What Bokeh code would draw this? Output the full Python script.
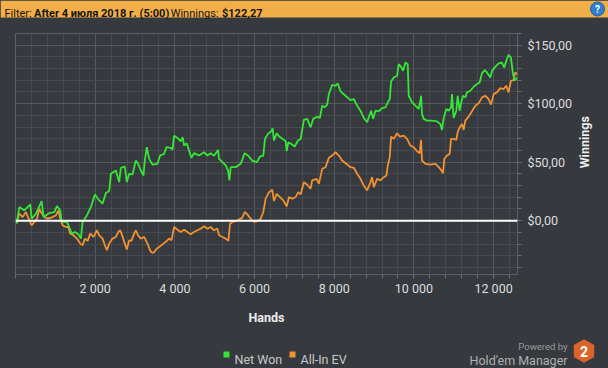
import math
from bokeh.plotting import figure
from bokeh.layouts import column, row
from bokeh.models import Range1d, FixedTicker, Label, Span, GlobalInlineStyleSheet
from bokeh.embed import file_html
from bokeh.resources import INLINE

# ---------------- data ----------------
NET_WON = [(30, -2.6), (96, 11.6), (221, 8.8), (372, 13.9), (405, 1.7), (514, 6.0), (656, 16.8), (706, 3.1),
           (848, 6.5), (973, 7.4), (1040, 12.5), (1124, 8.8), (1157, -1.1), (1291, -1.1), (1349, -5.4),
           (1408, -11.1), (1491, -9.7), (1575, -11.6), (1642, -15.3), (1683, -1.1), (1792, 4.5), (1892, 11.6),
           (1993, 22.4), (2101, 17.3), (2185, 14.5), (2268, 23.6), (2352, 25.3), (2394, 40.1), (2519, 42.9),
           (2602, 33.0), (2644, 45.2), (2744, 46.3), (2794, 33.0), (2853, 40.1), (2936, 39.5), (3020, 51.4),
           (3078, 48.6), (3145, 42.9), (3212, 38.6), (3245, 51.4), (3295, 62.8), (3354, 52.8), (3437, 48.0),
           (3563, 48.6), (3630, 55.7), (3730, 57.1), (3788, 62.8), (3897, 62.2), (3939, 60.5), (3981, 72.7),
           (4064, 70.7), (4148, 67.9), (4198, 71.3), (4231, 64.2), (4298, 66.2), (4357, 59.9), (4415, 53.7),
           (4482, 57.7), (4607, 55.7), (4733, 58.5), (4817, 55.7), (4900, 57.7), (4984, 55.4), (5084, 60.5),
           (5109, 52.8), (5193, 50.0), (5276, 47.2), (5335, 42.9), (5368, 34.4), (5402, 45.7), (5527, 45.7),
           (5652, 48.6), (5753, 57.7), (5836, 55.7), (5945, 51.4), (6053, 50.0), (6137, 54.8), (6220, 55.7),
           (6262, 69.9), (6337, 74.2), (6421, 76.4), (6454, 79.0), (6488, 68.5), (6555, 74.7), (6622, 71.9),
           (6705, 69.9), (6781, 67.9), (6806, 59.4), (6848, 67.0), (6923, 65.6), (7007, 63.4), (7090, 68.5),
           (7157, 69.9), (7239, 86.1), (7322, 87.0), (7406, 79.8), (7472, 87.0), (7573, 88.9), (7640, 87.8),
           (7698, 98.3), (7757, 96.9), (7823, 99.2), (7865, 108.2), (7949, 116.2), (8032, 115.3), (8091, 117.3),
           (8158, 110.5), (8283, 106.8), (8408, 103.1), (8492, 104.0), (8575, 98.3), (8659, 94.0), (8742, 87.8),
           (8826, 84.1), (8868, 88.4), (8926, 94.0), (8976, 87.0), (9035, 94.0), (9118, 93.5), (9202, 96.3),
           (9285, 96.9), (9344, 101.1), (9394, 104.0), (9427, 119.0), (9494, 122.4), (9578, 123.9), (9619, 133.8),
           (9678, 131.5), (9728, 128.1), (9787, 135.2), (9845, 133.8), (9870, 106.8), (9954, 101.1), (10037, 98.3),
           (10121, 95.5), (10162, 102.6), (10179, 106.8), (10204, 91.2), (10246, 87.0), (10330, 85.5),
           (10455, 85.5), (10580, 84.9), (10664, 82.7), (10705, 77.6), (10747, 87.8), (10814, 95.5), (10873, 94.0),
           (10931, 96.9), (10956, 108.2), (10998, 87.8), (11065, 94.0), (11098, 106.8), (11148, 94.0),
           (11182, 100.3), (11232, 106.8), (11290, 105.4), (11332, 109.7), (11416, 111.1), (11499, 114.5),
           (11583, 116.8), (11650, 118.2), (11708, 125.9), (11775, 128.7), (11833, 126.7), (11917, 122.4),
           (11959, 128.1), (12042, 131.5), (12126, 134.4), (12209, 135.2), (12268, 130.9), (12318, 136.6),
           (12376, 141.8), (12434, 139.5), (12485, 125.9), (12527, 119.6), (12590, 122.3)]

ALLIN_EV = [(30, -1.1), (96, 6.0), (180, 3.1), (263, 7.4), (347, 0.3), (405, -4.0), (472, -1.1), (539, 1.7),
            (598, 10.2), (639, 7.4), (723, 3.1), (806, 1.7), (932, 3.1), (1015, 4.5), (1074, 8.8), (1124, 1.7),
            (1183, -4.0), (1266, -5.4), (1324, -5.4), (1375, -11.1), (1458, -12.5), (1541, -15.3), (1625, -19.6),
            (1683, -21.0), (1742, -15.3), (1809, -17.3), (1876, -11.1), (1959, -13.9), (2043, -8.2), (2101, -12.5),
            (2185, -15.3), (2244, -21.0), (2294, -25.3), (2352, -19.6), (2436, -15.3), (2519, -13.9), (2578, -9.7),
            (2628, -8.2), (2686, -13.4), (2744, -19.6), (2794, -24.7), (2853, -16.8), (2911, -17.3), (2978, -11.1),
            (3020, -8.2), (3078, -12.5), (3145, -15.3), (3229, -13.9), (3312, -19.6), (3396, -26.7), (3462, -27.6),
            (3546, -23.9), (3630, -21.9), (3713, -19.6), (3797, -17.3), (3855, -15.3), (3914, -16.8), (3981, -5.4),
            (4064, -7.7), (4148, -9.7), (4231, -7.7), (4315, -9.7), (4398, -11.6), (4482, -9.7), (4566, -8.2),
            (4649, -6.8), (4733, -4.8), (4817, -6.8), (4900, -5.4), (4984, -8.2), (5067, -6.8), (5109, -12.5),
            (5193, -13.9), (5276, -15.3), (5343, -17.3), (5385, -2.6), (5443, -1.1), (5527, -0.3), (5610, 0.9),
            (5694, 2.6), (5753, 7.4), (5820, 5.4), (5903, 1.7), (5987, -1.1), (6070, -0.3), (6154, 1.7),
            (6220, 7.4), (6279, 18.8), (6362, 24.4), (6446, 26.4), (6488, 16.8), (6555, 23.0), (6638, 20.2),
            (6722, 17.3), (6806, 12.2), (6865, 20.2), (6948, 18.8), (7032, 20.2), (7098, 24.4), (7157, 22.4),
            (7239, 33.0), (7322, 30.7), (7406, 27.3), (7447, 34.4), (7556, 35.8), (7615, 31.5), (7698, 44.3),
            (7782, 45.7), (7865, 53.7), (7949, 55.7), (8032, 58.5), (8116, 55.7), (8199, 51.4), (8325, 48.0),
            (8408, 45.7), (8492, 45.2), (8575, 40.1), (8659, 35.8), (8742, 30.1), (8826, 25.9), (8893, 31.5),
            (8951, 37.2), (8993, 28.7), (9076, 35.8), (9160, 34.4), (9244, 37.2), (9310, 38.6), (9344, 47.2),
            (9394, 54.3), (9427, 71.9), (9494, 69.9), (9578, 74.7), (9645, 71.9), (9745, 72.7), (9828, 69.9),
            (9912, 64.2), (9995, 62.8), (10079, 59.4), (10146, 57.7), (10179, 69.0), (10204, 51.4), (10288, 48.6),
            (10413, 48.0), (10538, 48.6), (10622, 45.7), (10680, 43.5), (10730, 40.6), (10764, 52.8), (10831, 55.7),
            (10898, 57.1), (10931, 69.9), (10998, 69.9), (11065, 69.0), (11098, 75.6), (11148, 79.8), (11207, 82.7),
            (11249, 77.6), (11290, 85.5), (11374, 88.9), (11457, 93.5), (11541, 98.3), (11625, 100.3),
            (11708, 105.4), (11791, 106.8), (11875, 104.0), (11934, 99.2), (12001, 108.2), (12084, 109.7),
            (12168, 113.3), (12251, 112.5), (12318, 115.3), (12376, 109.7), (12434, 119.6), (12501, 120.2),
            (12543, 126.7), (12590, 125.3)]

X_TICKS = [2000, 4000, 6000, 8000, 10000, 12000]
X_TICK_LABELS = ["2 000", "4 000", "6 000", "8 000", "10 000", "12 000"]
Y_TICKS = [0, 50, 100, 150]
Y_TICK_LABELS = ["$0,00", "$50,00", "$100,00", "$150,00"]
SERIES_NAMES = ["Net Won", "All-In EV"]
X_TITLE = "Hands"
Y_TITLE = "Winnings"

# ---------------- style ----------------
BG = "#36393e"
HEADER = "#f2ae48"
GREEN = "#36e636"
ORANGE = "#f09132"
FONT = "Roboto"
W, H = 608, 368
BAND_H = 17          # orange band height
FL, FT, FR, FB = 15, 33, 517, 274  # frame edges in page px
MAIN_BOTTOM = 300    # page y where the main figure ends
MAIN_W = 577         # main figure width, rest is the side strip for the y title


def deco_fig(x0, x1, y0, y1, fill):
    """Plain figure whose data coordinates equal page pixels (y grows downward)."""
    f = figure(width=x1 - x0, height=y1 - y0, output_backend="svg", toolbar_location=None,
               x_range=Range1d(x0, x1), y_range=Range1d(y1, y0),
               x_axis_type=None, y_axis_type=None, min_border=0,
               background_fill_color=fill, border_fill_color=fill, outline_line_color=None)
    f.xgrid.visible = False
    f.ygrid.visible = False
    return f


def lab(f, text, x, y, size="12px", color="#dedede", style="normal", align="left", angle=0,
        baseline="alphabetic"):
    f.add_layout(Label(x=x, y=y, text=text, text_font=FONT, text_font_size=size, text_color=color,
                       text_font_style=style, text_align=align, text_baseline=baseline, angle=angle))


# ---------------- header (orange band + dark strip above the plot frame) ----------------
head = deco_fig(0, W, 0, FT, BG)
head.quad(left=[0], right=[W], top=[0], bottom=[BAND_H], fill_color=HEADER, line_color=None)
lab(head, "Filter:", 4, 12.5, size="11px", color="#151515")
lab(head, "After 4 июля 2018 г. (5:00)", 33.5, 12.5, size="11px", color="#151515", style="bold")
lab(head, "Winnings:", 218, 12.5, size="11px", color="#151515", align="right")
lab(head, "$122,27", 221.5, 12.5, size="11px", color="#151515", style="bold")
head.scatter([597], [8.5], marker="circle", size=14, fill_color="#2f7fcf", line_color="#1d5fa8")
lab(head, "?", 597, 8.5, size="10px", color="white", style="bold", align="center", baseline="middle")

# ---------------- main chart ----------------
p = figure(width=MAIN_W, height=MAIN_BOTTOM - FT, output_backend="svg", toolbar_location=None,
           x_range=Range1d(0, 12600), y_range=Range1d(-46, 160),
           y_axis_location="right",
           min_border_left=FL, min_border_right=MAIN_W - FR,
           min_border_top=0, min_border_bottom=MAIN_BOTTOM - FB,
           background_fill_color=BG, border_fill_color=BG,
           outline_line_color="#5d6064", outline_line_width=1)

p.xaxis.ticker = FixedTicker(ticks=X_TICKS, minor_ticks=list(range(0, 12601, 400)))
p.xaxis.major_label_overrides = dict(zip(X_TICKS, X_TICK_LABELS))
p.yaxis.ticker = FixedTicker(ticks=Y_TICKS, minor_ticks=list(range(-40, 161, 10)))
p.yaxis.major_label_overrides = dict(zip(Y_TICKS, Y_TICK_LABELS))
for ax in (p.xaxis, p.yaxis):
    ax.axis_line_color = None
    ax.major_tick_line_color = "#6b6e72"
    ax.minor_tick_line_color = "#6b6e72"
    ax.major_tick_in = 0
    ax.minor_tick_in = 0
    ax.major_tick_out = 4
    ax.minor_tick_out = 4
    ax.major_label_text_font = FONT
    ax.major_label_text_font_size = "12.5px"
    ax.major_label_text_color = "#dedede"
p.xaxis.major_label_standoff = 2
p.yaxis.major_label_standoff = 6

p.xgrid.ticker = p.xaxis.ticker
p.ygrid.ticker = p.yaxis.ticker
for g in (p.xgrid, p.ygrid):
    g.grid_line_color = "#56595d"
    g.minor_grid_line_color = "#46494e"

ev_x, ev_y = zip(*ALLIN_EV)
nw_x, nw_y = zip(*NET_WON)
p.line(list(ev_x), list(ev_y), line_color=ORANGE, line_width=1.8)
p.line(list(nw_x), list(nw_y), line_color=GREEN, line_width=1.8)
p.add_layout(Span(location=0, dimension="width", line_color="white", line_width=2))

# ---------------- side strip with the y title ----------------
side = deco_fig(MAIN_W, W, FT, MAIN_BOTTOM, BG)
lab(side, Y_TITLE, 584, (FT + FB) / 2, size="12.5px", style="bold", color="#eeeeee", align="center",
    angle=math.pi / 2, baseline="middle")

# ---------------- bottom: x title, legend, branding ----------------
bot = deco_fig(0, W, MAIN_BOTTOM, H, BG)
lab(bot, X_TITLE, (FL + FR) / 2, 317, size="12.5px", style="bold", color="#eeeeee", align="center")
bot.scatter([226], [354], marker="square", size=6, fill_color=GREEN, line_color=None)
lab(bot, SERIES_NAMES[0], 234, 358.5, size="12.5px", color="#c8c8c8")
bot.scatter([292], [354], marker="square", size=6, fill_color=ORANGE, line_color=None)
lab(bot, SERIES_NAMES[1], 300, 358.5, size="12.5px", color="#c8c8c8")
lab(bot, "Powered by", 567, 345.5, size="9.5px", color="#9a9a9a", align="right")
lab(bot, "Hold'em Manager", 567, 359.5, size="12.5px", color="#b0b0b0", align="right")
hx = [583.5 + 11.8 * math.cos(math.pi / 2 + math.pi * i / 3) for i in range(6)]
hy = [350.5 + 11.8 * math.sin(math.pi / 2 + math.pi * i / 3) for i in range(6)]
bot.patch(hx, hy, fill_color="#d9652b", line_color=None)
lab(bot, "2", 583.5, 351, size="14px", color="white", style="bold", align="center", baseline="middle")

layout = column(head, row(p, side), bot)
layout.stylesheets = [GlobalInlineStyleSheet(
    css="html,body{margin:0 !important;padding:0;background:%s;overflow:hidden;}" % BG)]

open("out.html", "w").write(file_html(layout, INLINE))
